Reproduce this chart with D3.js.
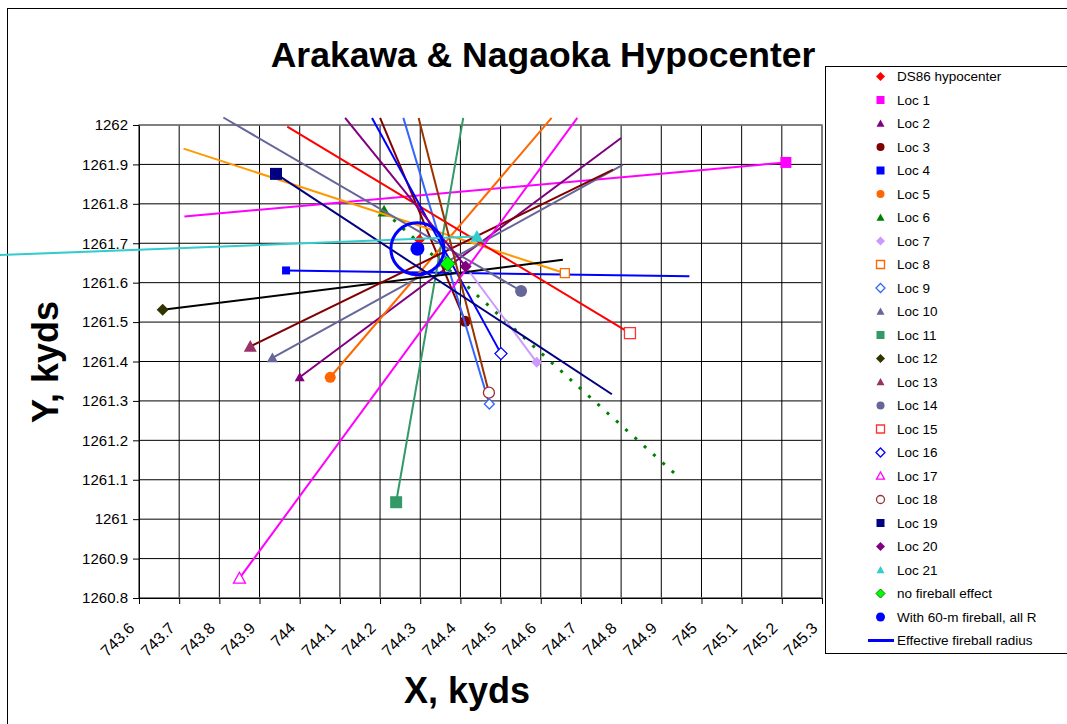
<!DOCTYPE html>
<html>
<head>
<meta charset="utf-8">
<script src="https://cdn.jsdelivr.net/npm/d3@7"></script>
<style>
  body { margin: 0; background: #fff; }
  svg { display: block; font-family: Arial, "Liberation Sans", sans-serif; }
</style>
</head>
<body>
<svg id="chart" width="1067" height="724"></svg>
<script>
// ---- axis ticks ----
const xTicks = [743.6, 743.7, 743.8, 743.9, 744.0, 744.1, 744.2, 744.3, 744.4, 744.5,
                744.6, 744.7, 744.8, 744.9, 745.0, 745.1, 745.2, 745.3];
const xTickLabels = ["743.6", "743.7", "743.8", "743.9", "744", "744.1", "744.2", "744.3", "744.4",
                     "744.5", "744.6", "744.7", "744.8", "744.9", "745", "745.1", "745.2", "745.3"];
const yTicks = [1260.8, 1260.9, 1261.0, 1261.1, 1261.2, 1261.3, 1261.4, 1261.5, 1261.6,
                1261.7, 1261.8, 1261.9, 1262.0];
const yTickLabels = ["1260.8", "1260.9", "1261", "1261.1", "1261.2", "1261.3", "1261.4",
                     "1261.5", "1261.6", "1261.7", "1261.8", "1261.9", "1262"];

// ---- measurement locations and the direction lines drawn from them ----
const locNames = ["Loc 1", "Loc 2", "Loc 3", "Loc 4", "Loc 5", "Loc 6", "Loc 7", "Loc 8", "Loc 9", "Loc 10",
                  "Loc 11", "Loc 12", "Loc 13", "Loc 14", "Loc 15", "Loc 16", "Loc 17", "Loc 18", "Loc 19",
                  "Loc 20", "Loc 21"];
const locX = [745.210, 744.000, 744.412, 743.966, 744.076, 744.210, 744.590, 744.660, 744.472, 743.932,
              744.240, 743.659, 743.877, 744.551, 744.822, 744.501, 743.850, 744.471, 743.941,
              744.413, 744.441];
const locY = [1261.905, 1261.360, 1261.502, 1261.631, 1261.360, 1261.781, 1261.398, 1261.624, 1261.292, 1261.409,
              1261.043, 1261.531, 1261.438, 1261.579, 1261.472, 1261.420, 1260.850, 1261.321, 1261.876,
              1261.641, 1261.717];
const endX = [743.713, 744.800, 744.200, 744.970, 744.627, 744.932, 744.404, 743.711, 744.258, 744.804,
              744.407, 744.655, 744.780, 743.810, 743.969, 744.180, 744.691, 744.296, 744.777,
              744.113, 743.254];
const endY = [1261.768, 1261.967, 1262.018, 1261.616, 1262.018, 1261.117, 1261.653, 1261.940, 1262.018, 1261.899,
              1262.018, 1261.658, 1261.887, 1262.019, 1261.996, 1262.018, 1262.018, 1262.018, 1261.317,
              1262.018, 1261.670];

// ---- hypocenter estimates ----
const ds86 = [744.298, 1261.709];
const noFireball = [744.368, 1261.648];
const withFireball = [744.293, 1261.686];
const fireballRadius = 0.066;   // kyds, about 60 m

// ---- styling per location ----
const locLineColor = ["#FF00FF", "#800080", "#800000", "#0000FF", "#FF6600", "#008000", "#CC99FF", "#FF9900",
                      "#3366FF", "#666699", "#339966", "#000000", "#800000", "#666699", "#FF0000", "#0000FF",
                      "#FF00FF", "#993300", "#000080", "#800080", "#33CCCC"];
const locMarker = [
  { shape: "square",   size: 11, color: "#FF00FF", open: false },
  { shape: "triangle", size: 10, color: "#800080", open: false },
  { shape: "circle",   size: 11, color: "#800000", open: false },
  { shape: "square",   size: 8,  color: "#0000FF", open: false },
  { shape: "circle",   size: 11, color: "#FF6600", open: false },
  { shape: "triangle", size: 13, color: "#008000", open: false },
  { shape: "diamond",  size: 11, color: "#CC99FF", open: false },
  { shape: "square",   size: 9,  color: "#FF6600", open: true },
  { shape: "diamond",  size: 10, color: "#3366FF", open: true },
  { shape: "triangle", size: 11, color: "#666699", open: false },
  { shape: "square",   size: 12, color: "#339966", open: false },
  { shape: "diamond",  size: 12, color: "#333300", open: false },
  { shape: "triangle", size: 13, color: "#993366", open: false },
  { shape: "circle",   size: 12, color: "#666699", open: false },
  { shape: "square",   size: 11, color: "#FF3333", open: true },
  { shape: "diamond",  size: 12, color: "#0000FF", open: true },
  { shape: "triangle", size: 12, color: "#FF00FF", open: true },
  { shape: "circle",   size: 11, color: "#993333", open: true },
  { shape: "square",   size: 12, color: "#000080", open: false },
  { shape: "diamond",  size: 12, color: "#800080", open: false },
  { shape: "triangle", size: 13, color: "#33CCCC", open: false }
];

const svg = d3.select("#chart");
const W = 1067, H = 724;
const plot = { left: 139, right: 822, top: 125, bottom: 598 };

const x = d3.scaleLinear().domain([743.6, 745.3]).range([plot.left, plot.right]);
const y = d3.scaleLinear().domain([1260.8, 1262.0]).range([plot.bottom, plot.top]);

// chart area frame
svg.append("rect").attr("x", 7.5).attr("y", 8.5).attr("width", W + 20).attr("height", H + 20)
  .attr("fill", "#fff").attr("stroke", "#000").attr("stroke-width", 1);

// title
svg.append("text").attr("x", 543).attr("y", 67).attr("text-anchor", "middle")
  .attr("font-size", 35.5).attr("font-weight", "bold").text("Arakawa & Nagaoka Hypocenter");

// gridlines
const grid = svg.append("g");
grid.selectAll("line.vx").data(xTicks).join("line")
  .attr("x1", d => x(d)).attr("x2", d => x(d)).attr("y1", plot.top).attr("y2", plot.bottom)
  .attr("stroke", "#000").attr("stroke-width", 1);
grid.selectAll("line.hy").data(yTicks).join("line")
  .attr("y1", d => y(d)).attr("y2", d => y(d)).attr("x1", plot.left).attr("x2", plot.right)
  .attr("stroke", "#000").attr("stroke-width", 1);
svg.append("rect").attr("x", plot.left).attr("y", plot.top)
  .attr("width", plot.right - plot.left).attr("height", plot.bottom - plot.top)
  .attr("fill", "none").attr("stroke", "#808080").attr("stroke-width", 1.5);

// axes
const xAxis = d3.axisBottom(x).tickValues(xTicks).tickSize(6).tickSizeOuter(0)
  .tickFormat((d, i) => xTickLabels[i]);
const gx = svg.append("g").attr("transform", `translate(0,${plot.bottom})`).call(xAxis);
gx.select(".domain").attr("stroke", "#000");
gx.selectAll(".tick line").attr("stroke", "#000");
gx.selectAll(".tick text")
  .attr("font-size", 16).attr("font-family", "Arial, 'Liberation Sans', sans-serif").attr("fill", "#000")
  .attr("text-anchor", "end").attr("x", 0).attr("y", 0).attr("dy", "0.72em")
  .attr("transform", "translate(-12,23) rotate(-45)");

const yAxis = d3.axisLeft(y).tickValues(yTicks).tickSize(6).tickSizeOuter(0)
  .tickFormat((d, i) => yTickLabels[i]);
const gy = svg.append("g").attr("transform", `translate(${plot.left},0)`).call(yAxis);
gy.select(".domain").attr("stroke", "#000");
gy.selectAll(".tick line").attr("stroke", "#000");
gy.selectAll(".tick text")
  .attr("font-size", 15).attr("font-family", "Arial, 'Liberation Sans', sans-serif").attr("fill", "#000")
  .attr("x", -11);

// axis titles
svg.append("text").attr("x", 467).attr("y", 703).attr("text-anchor", "middle")
  .attr("font-size", 36).attr("font-weight", "bold").text("X, kyds");
svg.append("text").attr("transform", "translate(58,362) rotate(-90)").attr("text-anchor", "middle")
  .attr("font-size", 36).attr("font-weight", "bold").text("Y, kyds");

// marker path generator, size = pixel width of the marker
function markerPath(shape, size) {
  if (shape === "circle") return d3.symbol(d3.symbolCircle, Math.PI * size * size / 4)();
  if (shape === "square") return d3.symbol(d3.symbolSquare, size * size)();
  if (shape === "diamond") {
    const h = size / 2;
    return `M0,${-h}L${h},0L0,${h}L${-h},0Z`;
  }
  if (shape === "triangle") {
    const h = size / 2;
    return `M0,${-h}L${h},${h * 0.8}L${-h},${h * 0.8}Z`;
  }
}
function drawMarker(g, cx, cy, m) {
  g.append("path").attr("d", markerPath(m.shape, m.size))
    .attr("transform", `translate(${cx},${cy})`)
    .attr("fill", m.open ? "#fff" : m.color)
    .attr("stroke", m.stroke || m.color)
    .attr("stroke-width", m.open ? 1.3 : (m.stroke ? 1 : 0));
}

const marks = svg.append("g");

// DS86 hypocenter
drawMarker(marks, x(ds86[0]), y(ds86[1]), { shape: "diamond", size: 11, color: "#FF0000" });

// location lines and markers
locNames.forEach((name, i) => {
  const dotted = name === "Loc 6";
  marks.append("line")
    .attr("x1", x(locX[i])).attr("y1", y(locY[i]))
    .attr("x2", x(endX[i])).attr("y2", y(endY[i]))
    .attr("stroke", locLineColor[i]).attr("stroke-width", dotted ? 3 : 2)
    .attr("stroke-dasharray", dotted ? "3,9.5" : null);
  drawMarker(marks, x(locX[i]), y(locY[i]), locMarker[i]);
});

// hypocenter without fireball correction
drawMarker(marks, x(noFireball[0]), y(noFireball[1]),
  { shape: "diamond", size: 15, color: "#00FF00", stroke: "#008000" });
// hypocenter with 60-m fireball
drawMarker(marks, x(withFireball[0]), y(withFireball[1]), { shape: "circle", size: 14, color: "#0000FF" });
// effective fireball radius
marks.append("ellipse")
  .attr("cx", x(withFireball[0])).attr("cy", y(withFireball[1]))
  .attr("rx", x(withFireball[0] + fireballRadius) - x(withFireball[0]))
  .attr("ry", y(withFireball[1]) - y(withFireball[1] + fireballRadius))
  .attr("fill", "none").attr("stroke", "#0000FF").attr("stroke-width", 3);

// legend
const legendItems = [{ name: "DS86 hypocenter", m: { shape: "diamond", size: 9, color: "#FF0000" } }]
  .concat(locNames.map((n, i) => ({ name: n, m: Object.assign({}, locMarker[i], { size: locMarker[i].shape === "diamond" ? 9 : 8 }) })))
  .concat([
    { name: "no fireball effect", m: { shape: "diamond", size: 9, color: "#00FF00", stroke: "#008000" } },
    { name: "With 60-m fireball, all R", m: { shape: "circle", size: 9, color: "#0000FF" } },
    { name: "Effective fireball radius", line: "#0000FF" }
  ]);

const lg = svg.append("g");
lg.append("rect").attr("x", 825.5).attr("y", 66.5).attr("width", 260).attr("height", 587)
  .attr("fill", "#fff").attr("stroke", "#000").attr("stroke-width", 1);
legendItems.forEach((it, i) => {
  const cy = 76.5 + i * 23.5;
  if (it.line) {
    lg.append("line").attr("x1", 868).attr("x2", 894).attr("y1", cy).attr("y2", cy)
      .attr("stroke", it.line).attr("stroke-width", 3);
  } else {
    drawMarker(lg, 880.5, cy, it.m);
  }
  lg.append("text").attr("x", 897).attr("y", cy).attr("dy", "0.36em")
    .attr("font-size", 13.5).text(it.name);
});
</script>
</body>
</html>
